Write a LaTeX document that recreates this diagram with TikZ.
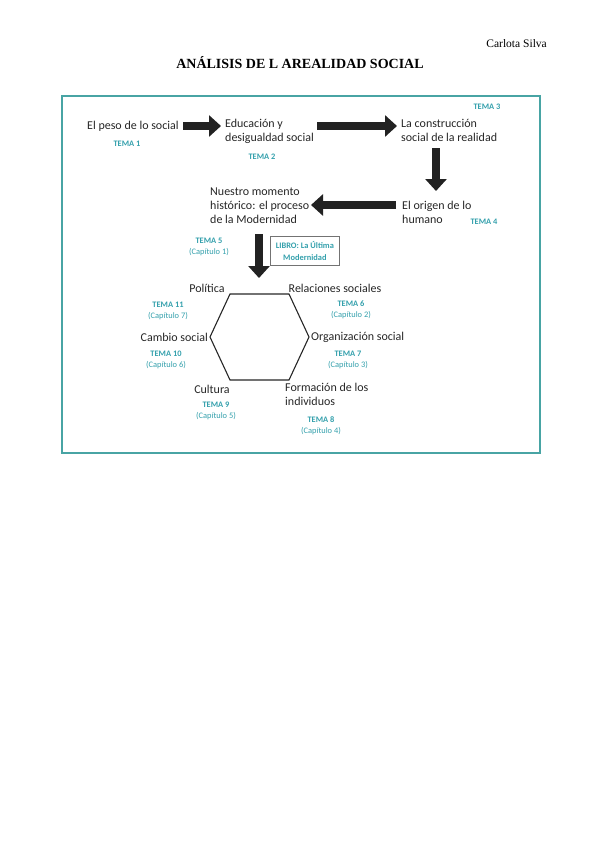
\documentclass[tikz,border=0pt]{standalone}
\usepackage{fontspec}
\setmainfont{Carlito}
\newfontfamily\timesf{Liberation Serif}
\usetikzlibrary{arrows.meta}
\definecolor{frameteal}{RGB}{72,164,164}
\definecolor{temateal}{RGB}{52,160,172}
\definecolor{arrowdark}{RGB}{34,34,34}
\tikzset{
  lbl/.style={inner sep=0pt, align=left, font=\fontsize{12}{14}\selectfont, text=black!85},
  tema/.style={inner sep=0pt, align=center, text=temateal, font=\fontsize{8.4}{11.5}\selectfont},
  bigarrow/.style={draw=arrowdark, line width=8pt, -{Triangle[width=21pt,length=12pt]}},
}
\newcommand{\tm}[1]{\textbf{#1}}
\begin{document}
\begin{tikzpicture}[x=1pt,y=-1pt]
\useasboundingbox (0,0) rectangle (599,848);
% header
\node[anchor=base east, inner sep=0pt, font=\timesf\fontsize{11.5}{13}\selectfont] (author) at (547,48) {Carlota Silva};
\node[anchor=base, inner sep=0pt, font=\timesf\bfseries\fontsize{14}{16}\selectfont] (title) at (300,69) {ANÁLISIS DE L AREALIDAD SOCIAL};
% frame
\node[draw=frameteal, line width=2.2pt, minimum width=478pt, minimum height=357pt, inner sep=0pt, anchor=north west] (frame) at (61,95) {};
% top row
\node[lbl, anchor=west] (peso) at (87,126) {El peso de lo social};
\node[lbl, anchor=north west] (edu) at (225,119) {Educación y\\desigualdad social};
\node[lbl, anchor=north west] (cons) at (401,119) {La construcción\\social de la realidad};
\node[tema] (t1) at (127,144) {\tm{TEMA 1}};
\node[tema] (t2) at (262,157) {\tm{TEMA 2}};
\node[tema] (t3) at (487,107) {\tm{TEMA 3}};
% second row
\node[lbl, anchor=north west] (orig) at (402,201) {El origen de lo\\humano};
\node[tema] (t4) at (484,222) {\tm{TEMA 4}};
\node[lbl, anchor=north west] (nues) at (210,188) {Nuestro momento\\histórico: el proceso\\de la Modernidad};
\node[tema] (t5) at (209,247) {\tm{TEMA 5}\\(Capítulo 1)};
\node[draw=black!55, line width=0.7pt, tema, minimum width=69pt, minimum height=29pt, anchor=north west] (libro) at (270,236) {\tm{LIBRO: La Última}\\\tm{Modernidad}};
% arrow anchor coordinates
\coordinate (a1s) at (183,126); \coordinate (a1e) at (221,126);
\coordinate (a2s) at (317,126); \coordinate (a2e) at (397,126);
\coordinate (a3s) at (436,148); \coordinate (a3e) at (436,191);
\coordinate (a4s) at (396,205); \coordinate (a4e) at (311,205);
\coordinate (a5s) at (259,234); \coordinate (a5e) at (259,278);
\draw[bigarrow] (a1s) -- (a1e);
\draw[bigarrow] (a2s) -- (a2e);
\draw[bigarrow] (a3s) -- (a3e);
\draw[bigarrow] (a4s) -- (a4e);
\draw[bigarrow] (a5s) -- (a5e);
% hexagon
\coordinate (h1) at (230,294);
\coordinate (h2) at (289,294);
\coordinate (h3) at (309,337);
\coordinate (h4) at (289,380);
\coordinate (h5) at (230,380);
\coordinate (h6) at (210,337);
\draw[line width=1.1pt, black!85] (h1) -- (h2) -- (h3) -- (h4) -- (h5) -- (h6) -- cycle;
% hexagon labels
\node[lbl] (pol) at (207,288) {Política};
\node[lbl] (rel) at (335,288) {Relaciones sociales};
\node[lbl, anchor=east] (cam) at (208,337) {Cambio social};
\node[lbl, anchor=west] (org) at (311,337) {Organización social};
\node[lbl] (cul) at (212,389) {Cultura};
\node[lbl, anchor=north west] (form) at (285,383) {Formación de los\\individuos};
\node[tema] (t11) at (168,311) {\tm{TEMA 11}\\(Capítulo 7)};
\node[tema] (t6) at (351,310) {\tm{TEMA 6}\\(Capítulo 2)};
\node[tema] (t10) at (166,360) {\tm{TEMA 10}\\(Capítulo 6)};
\node[tema] (t7) at (348,360) {\tm{TEMA 7}\\(Capítulo 3)};
\node[tema] (t9) at (216,411) {\tm{TEMA 9}\\(Capítulo 5)};
\node[tema] (t8) at (321,426) {\tm{TEMA 8}\\(Capítulo 4)};
\end{tikzpicture}
\end{document}
